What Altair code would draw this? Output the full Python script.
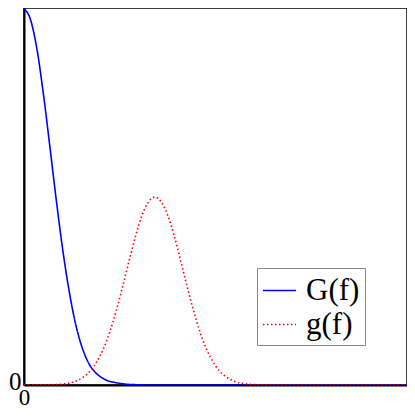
import altair as alt
import pandas as pd

# G(f): solid blue curve
G_f = [0.0, 0.05, 0.1, 0.15, 0.2, 0.25, 0.3, 0.35, 0.4, 0.45, 0.5, 0.55,
       0.6, 0.65, 0.7, 0.75, 0.8, 0.9, 1.0, 1.2, 1.5, 2.0, 2.5, 3.0]
G_v = [0.985, 0.957, 0.880, 0.763, 0.626, 0.485, 0.355, 0.246, 0.160, 0.099,
       0.058, 0.034, 0.020, 0.011, 0.007, 0.004, 0.002, 0.0005, 0.0, 0.0,
       0.0, 0.0, 0.0, 0.0]

# g(f): dotted red curve, peak near f = 1.015
g_f = [0.0, 0.215, 0.315, 0.415, 0.465, 0.515, 0.565, 0.615, 0.665, 0.715,
       0.765, 0.815, 0.865, 0.915, 0.965, 1.015, 1.065, 1.115, 1.165, 1.215,
       1.265, 1.315, 1.365, 1.415, 1.465, 1.515, 1.565, 1.615, 1.715, 1.815,
       2.015, 2.5, 3.0]
g_v = [0.0, 0.0007, 0.003, 0.012, 0.022, 0.037, 0.061, 0.094, 0.139, 0.194,
       0.258, 0.325, 0.390, 0.444, 0.479, 0.492, 0.479, 0.444, 0.390, 0.325,
       0.258, 0.194, 0.139, 0.094, 0.061, 0.037, 0.022, 0.012, 0.003, 0.0007,
       0.0, 0.0, 0.0]

series_names = ["G(f)", "g(f)"]

df = pd.concat([
    pd.DataFrame({"f": G_f, "v": G_v, "s": series_names[0]}),
    pd.DataFrame({"f": g_f, "v": g_v, "s": series_names[1]}),
])

font = "Liberation Serif"

legend_kw = dict(title=None, orient="none", legendX=233, legendY=260,
                 symbolType="stroke", symbolSize=1089,
                 symbolStrokeWidth=1.5, labelFont=font,
                 labelFontSize=31, labelColor="black",
                 labelOffset=9, padding=5, rowPadding=1,
                 strokeColor="#888888", fillColor="white")

chart = alt.Chart(df).mark_line(interpolate="monotone", strokeWidth=1.6, clip=True).encode(
    x=alt.X("f:Q", scale=alt.Scale(domain=[0, 2.97], nice=False),
            axis=alt.Axis(values=[0], title=None, grid=False, ticks=False, tickSize=0,
                          labelFont=font, labelFontSize=23, labelColor="black",
                          labelPadding=1, labelFlush=False,
                          domainColor="black", domainWidth=2)),
    y=alt.Y("v:Q", scale=alt.Scale(domain=[0, 0.987], nice=False),
            axis=alt.Axis(values=[0], title=None, grid=False, ticks=False, tickSize=0,
                          labelFont=font, labelFontSize=25, labelColor="black",
                          labelPadding=3, labelOffset=-4, labelFlush=False,
                          domainColor="black", domainWidth=2)),
    color=alt.Color("s:N", scale=alt.Scale(domain=series_names, range=["#0000ff", "#ff0000"]),
                    legend=alt.Legend(**legend_kw)),
    strokeDash=alt.StrokeDash("s:N", scale=alt.Scale(domain=series_names,
                                                      range=[[1, 0], [1.5, 2.5]]),
                              legend=alt.Legend(**legend_kw)),
).properties(
    width=383, height=377,
    autosize=alt.AutoSizeParams(type="none"),
    padding={"left": 16, "top": 0, "right": 0, "bottom": 24},
).configure_view(stroke="black", strokeWidth=1.5)

chart.save("out.html", embed_options={"renderer": "svg", "actions": False})
